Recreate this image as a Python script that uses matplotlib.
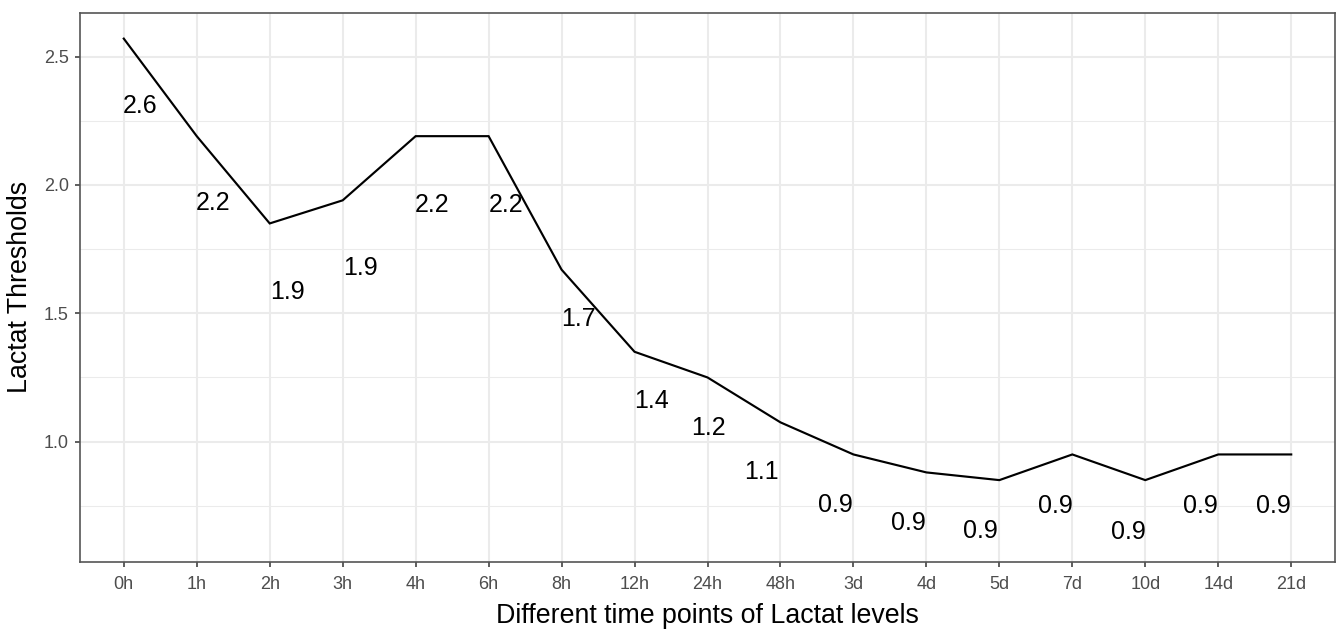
import matplotlib
matplotlib.use("Agg")
import matplotlib.pyplot as plt
from matplotlib.ticker import MultipleLocator

plt.rcParams['font.family'] = ['Liberation Sans', 'DejaVu Sans']

# ---- data ----
time_points = ["0h", "1h", "2h", "3h", "4h", "6h", "8h", "12h", "24h", "48h",
               "3d", "4d", "5d", "7d", "10d", "14d", "21d"]
thresholds = [2.57, 2.19, 1.85, 1.94, 2.19, 2.19, 1.67, 1.35, 1.25, 1.075,
              0.95, 0.88, 0.85, 0.95, 0.85, 0.95, 0.95]
value_labels = ["2.6", "2.2", "1.9", "1.9", "2.2", "2.2", "1.7", "1.4", "1.2", "1.1",
                "0.9", "0.9", "0.9", "0.9", "0.9", "0.9", "0.9"]

# label offsets (pixels) relative to each point
label_dx = [16, 16, 18, 18, 16, 17, 17, 17, 1, -19, -18, -18, -19, -17, -17, -18, -18]
label_dy = [65, 64, 66, 65, 66, 66, 47, 47, 48, 47, 48, 48, 48, 49, 49, 49, 49]

fig = plt.figure(figsize=(13.36, 6.31), dpi=100)
ax = fig.add_axes([80 / 1336, 69 / 631, 1255 / 1336, 549.3 / 631])

x = list(range(len(time_points)))
ax.plot(x, thresholds, color='black', lw=1.55, zorder=3, solid_joinstyle='miter')

for xi, v, lab, dx, dy in zip(x, thresholds, value_labels, label_dx, label_dy):
    ax.annotate(lab, xy=(xi, v), xytext=(dx, -dy), textcoords='offset pixels',
                ha='center', va='center_baseline', fontsize=18, color='black', zorder=4)

ax.set_xlim(-0.6, len(time_points) - 1 + 0.6)
ax.set_ylim(0.531, 2.671)
ax.set_xticks(x)
ax.set_xticklabels(time_points)
ax.set_yticks([1.0, 1.5, 2.0, 2.5])
ax.set_yticks([0.75, 1.25, 1.75, 2.25], minor=True)

ax.grid(which='major', color='#EBEBEB', lw=1.45, zorder=0)
ax.grid(which='minor', axis='y', color='#EBEBEB', lw=0.75, zorder=0)
ax.set_axisbelow(True)

for s in ax.spines.values():
    s.set_color('#555555')
    s.set_linewidth(1.2)

ax.tick_params(axis='both', which='major', colors='#333333', length=3.6, width=1.1,
               labelsize=13, labelcolor='#4D4D4D')
ax.tick_params(axis='x', which='major', pad=6.5)
ax.tick_params(axis='y', which='major', pad=4.5)
ax.tick_params(axis='y', which='minor', length=0)

ax.set_xlabel("Different time points of Lactat levels", fontsize=19.3, color='black', labelpad=7)
ax.set_ylabel("Lactat Thresholds", fontsize=19.3, color='black', labelpad=8)

fig.savefig("out.png", dpi=100)
